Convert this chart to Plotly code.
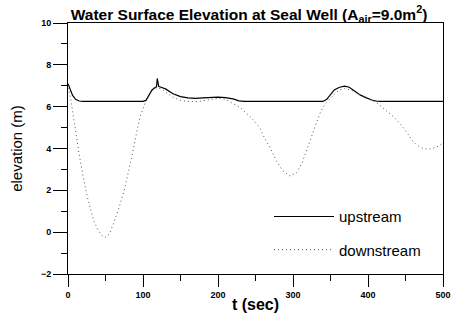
import plotly.graph_objects as go

# upstream series
t_up = [0, 3, 6, 10, 15, 20, 40, 60, 80, 100, 104, 108, 112, 116, 118, 119, 120, 121, 124, 130,
        140, 150, 160, 170, 180, 190, 200, 210, 220, 228, 235, 260, 280, 300, 320, 340, 345, 350,
        355, 362, 369, 375, 382, 390, 398, 405, 412, 416, 440, 460, 480, 500]
v_up = [7.1, 6.85, 6.55, 6.35, 6.27, 6.25, 6.25, 6.25, 6.25, 6.25, 6.3, 6.55, 6.8, 6.92, 6.95, 7.35, 6.97, 6.96, 6.93, 6.85,
        6.62, 6.48, 6.42, 6.4, 6.42, 6.45, 6.46, 6.43, 6.37, 6.28, 6.25, 6.25, 6.25, 6.25, 6.25, 6.25, 6.35, 6.6,
        6.8, 6.93, 6.98, 6.93, 6.75, 6.55, 6.42, 6.32, 6.26, 6.25, 6.25, 6.25, 6.25, 6.25]

# downstream series
t_dn = [0, 3, 6, 10, 15, 20, 25, 30, 35, 40, 45, 49, 55, 60, 67, 75, 80, 85, 90, 96, 100, 103, 108, 112,
        118, 125, 130, 140, 150, 160, 175, 190, 200, 210, 220, 230, 238, 245, 256, 262, 269, 278, 286,
        296, 305, 312, 320, 328, 335, 340, 347, 355, 362, 369, 380, 390, 398, 405, 411, 420, 434, 445,
        452, 460, 465, 472, 479, 486, 492, 500]
v_dn = [6.9, 6.5, 5.8, 4.8, 3.7, 2.7, 1.8, 1.1, 0.5, 0.1, -0.15, -0.25, -0.1, 0.35, 1.05, 2.0, 2.73, 3.6, 4.5, 5.5, 5.9, 6.2, 6.5, 6.75,
        6.9, 6.85, 6.7, 6.45, 6.3, 6.25, 6.25, 6.35, 6.4, 6.35, 6.15, 5.95, 5.68, 5.45, 4.97, 4.5, 4.07, 3.4, 2.95,
        2.68, 2.85, 3.3, 4.1, 4.9, 5.6, 5.98, 6.3, 6.6, 6.8, 6.88, 6.75, 6.55, 6.4, 6.3, 6.2, 5.95, 5.52, 5.1,
        4.72, 4.35, 4.16, 4.02, 3.97, 4.0, 4.08, 4.26]

FONT = "Liberation Sans, Arial, sans-serif"

fig = go.Figure()
fig.add_trace(go.Scatter(x=t_up, y=v_up, mode="lines", name="upstream", showlegend=True,
                         line=dict(color="black", width=1.2), legend="legend"))
fig.add_trace(go.Scatter(x=t_dn, y=v_dn, mode="lines", name="downstream", showlegend=True,
                         line=dict(color="#555555", width=1, dash="1px,3px"), legend="legend2"))

axis_common = dict(showline=True, linecolor="black", linewidth=1, mirror=True, automargin=False,
                   ticks="outside", tickcolor="black", showgrid=False, zeroline=False,
                   tickfont=dict(family=FONT, size=9, color="black", weight="bold"))

fig.update_xaxes(range=[0, 500], dtick=100, tick0=0, ticklen=12,
                 minor=dict(dtick=50, ticklen=6, ticks="outside", tickcolor="black"),
                 title=dict(text="t (sec)", font=dict(family=FONT, size=16, color="black", weight="bold"), standoff=0),
                 **axis_common)
fig.update_yaxes(range=[-2, 10], dtick=2, tick0=0, ticklen=14,
                 minor=dict(dtick=1, ticklen=6, ticks="outside", tickcolor="black"),
                 title=dict(text="elevation (m)", font=dict(family=FONT, size=15, color="black"), standoff=14),
                 **axis_common)

leg = dict(bgcolor="rgba(0,0,0,0)", borderwidth=0, itemwidth=60,
           font=dict(family=FONT, size=15, color="black"), xanchor="left", yanchor="middle")
fig.update_layout(
    width=452, height=320, showlegend=True,
    margin=dict(l=68, r=9, t=23, b=46),
    paper_bgcolor="white", plot_bgcolor="white",
    title=dict(text="Water Surface Elevation at Seal Well (A<sub>air</sub>=9.0m<sup>2</sup>)",
               font=dict(family=FONT, size=15.5, color="black", weight="bold"),
               x=0.551, xanchor="center", y=0.955, yanchor="middle"),
    legend=dict(x=0.536, y=0.228, **leg),
    legend2=dict(x=0.536, y=0.096, **leg),
)

fig.write_html("out.html", config={"displayModeBar": False},
               post_script="document.body.style.margin='0';")
